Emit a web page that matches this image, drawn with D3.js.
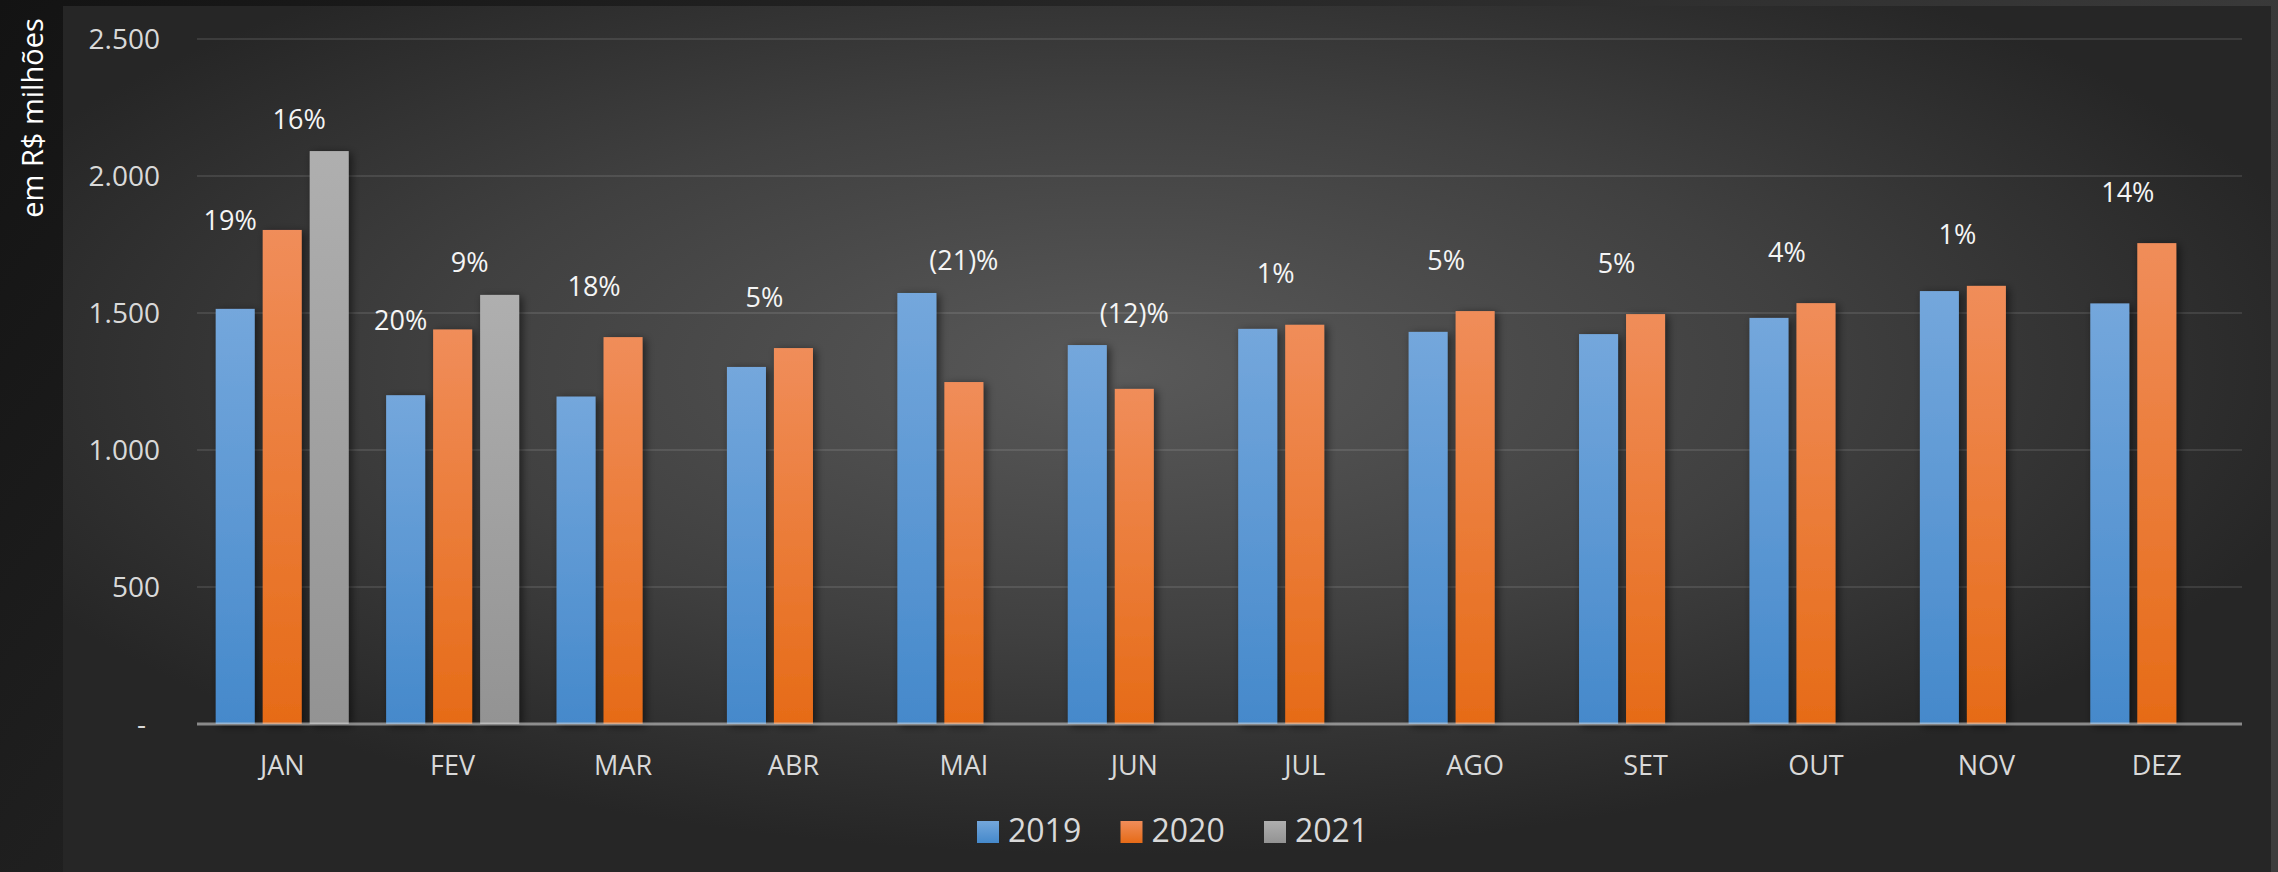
<!DOCTYPE html>
<html>
<head>
<meta charset="utf-8">
<script src="https://cdn.jsdelivr.net/npm/d3@7"></script>
<style>
  html, body { margin: 0; padding: 0; background: #1a1a1a; }
  svg { display: block; }
  text { font-family: "Open Sans", "Noto Sans", sans-serif; }
</style>
</head>
<body>
<svg id="chart" width="2278" height="872"></svg>
<script>
// ---- data ----
const months = ["JAN", "FEV", "MAR", "ABR", "MAI", "JUN", "JUL", "AGO", "SET", "OUT", "NOV", "DEZ"];
const years = ["2019", "2020", "2021"];
const values2019 = [1515, 1200, 1195, 1303, 1573, 1383, 1442, 1431, 1423, 1482, 1580, 1535];
const values2020 = [1803, 1440, 1412, 1372, 1248, 1223, 1457, 1507, 1496, 1536, 1599, 1755];
const values2021 = [2091, 1566, null, null, null, null, null, null, null, null, null, null];
const growth2020 = ["19%", "20%", "18%", "5%", "(21)%", "(12)%", "1%", "5%", "5%", "4%", "1%", "14%"];
const growth2021 = ["16%", "9%", null, null, null, null, null, null, null, null, null, null];
const yTickValues = [0, 500, 1000, 1500, 2000, 2500];
const yTickLabels = ["-", "500", "1.000", "1.500", "2.000", "2.500"];
const yTitle = "em R$ milhões";

// ---- layout ----
const W = 2278, H = 872;
const panel = { x: 63, y: 6, w: 2208, h: 866 };
const plot = { left: 197, right: 2242, top: 39, bottom: 724 };

const svg = d3.select("#chart");
const defs = svg.append("defs");

// page background
const bg = defs.append("linearGradient").attr("id", "pageBg")
  .attr("x1", 0).attr("y1", 0).attr("x2", 1).attr("y2", 0.3);
bg.append("stop").attr("offset", 0).attr("stop-color", "#131313");
bg.append("stop").attr("offset", 1).attr("stop-color", "#3d3d3d");

const pg = defs.append("radialGradient").attr("id", "panelBg")
  .attr("cx", 0.48).attr("cy", 0.42).attr("r", 0.56);
pg.append("stop").attr("offset", 0).attr("stop-color", "#595959");
pg.append("stop").attr("offset", 0.55).attr("stop-color", "#404040");
pg.append("stop").attr("offset", 1).attr("stop-color", "#262626");

const barColors = {
  "2019": ["#74a7dc", "#4589cb"],
  "2020": ["#f08d5a", "#e66b17"],
  "2021": ["#afafaf", "#939393"]
};
years.forEach(yr => {
  const g = defs.append("linearGradient").attr("id", "grad" + yr)
    .attr("x1", 0).attr("y1", 0).attr("x2", 0).attr("y2", 1);
  g.append("stop").attr("offset", 0).attr("stop-color", barColors[yr][0]);
  g.append("stop").attr("offset", 1).attr("stop-color", barColors[yr][1]);
});

const f = defs.append("filter").attr("id", "shadow")
  .attr("x", "-50%").attr("y", "-10%").attr("width", "200%").attr("height", "120%");
f.append("feDropShadow").attr("dx", 3).attr("dy", 2).attr("stdDeviation", 4)
  .attr("flood-color", "#000").attr("flood-opacity", 0.55);

svg.append("rect").attr("width", W).attr("height", H).attr("fill", "url(#pageBg)");
svg.append("rect").attr("x", panel.x).attr("y", panel.y)
  .attr("width", panel.w).attr("height", panel.h).attr("fill", "url(#panelBg)");

// ---- scales ----
const x0 = d3.scaleBand().domain(months).range([plot.left, plot.right]).paddingInner(0).paddingOuter(0);
const x1 = d3.scaleBand().domain(years).range([0, x0.bandwidth()])
  .paddingInner(8 / 47).paddingOuter(0.398);
const y = d3.scaleLinear().domain([0, 2500]).range([plot.bottom, plot.top]);

// ---- gridlines ----
svg.append("g")
  .selectAll("line").data(yTickValues.filter(v => v > 0)).join("line")
  .attr("x1", plot.left).attr("x2", plot.right)
  .attr("y1", d => y(d)).attr("y2", d => y(d))
  .attr("stroke", "rgba(255,255,255,0.10)").attr("stroke-width", 2);

// ---- y axis labels ----
const yAxis = d3.axisLeft(y).tickValues(yTickValues)
  .tickFormat((d, i) => yTickLabels[i]).tickSize(0).tickPadding(0);
const yg = svg.append("g").attr("transform", `translate(160,0)`).call(yAxis);
yg.select(".domain").remove();
yg.selectAll("text")
  .attr("fill", "#d9d9d9").attr("font-size", 28)
  .attr("font-family", "'Open Sans', sans-serif")
  .attr("dy", "0.35em")
  .attr("dx", d => d === 0 ? -14 : 0);

// y title
svg.append("text")
  .attr("transform", `translate(43, 118) rotate(-90)`)
  .attr("text-anchor", "middle")
  .attr("fill", "#ffffff").attr("font-size", 29)
  .text(yTitle);

// ---- bars ----
const seriesByYear = { "2019": values2019, "2020": values2020, "2021": values2021 };
const barData = [];
months.forEach((m, i) => {
  years.forEach(yr => {
    const v = seriesByYear[yr][i];
    if (v != null) barData.push({ month: m, year: yr, value: v });
  });
});

svg.append("g").selectAll("rect").data(barData).join("rect")
  .attr("x", d => x0(d.month) + x1(d.year))
  .attr("y", d => y(d.value))
  .attr("width", x1.bandwidth())
  .attr("height", d => y(0) - y(d.value))
  .attr("fill", d => `url(#grad${d.year})`)
  .attr("filter", "url(#shadow)");

// ---- x axis ----
svg.append("line")
  .attr("x1", plot.left).attr("x2", plot.right)
  .attr("y1", y(0)).attr("y2", y(0))
  .attr("stroke", "rgba(217,217,217,0.56)").attr("stroke-width", 3);

const xAxis = d3.axisBottom(x0).tickSize(0).tickPadding(0);
const xg = svg.append("g").attr("transform", `translate(0,${y(0)})`).call(xAxis);
xg.select(".domain").remove();
xg.selectAll("text")
  .attr("fill", "#d9d9d9").attr("font-size", 27)
  .attr("font-family", "'Open Sans', sans-serif")
  .attr("y", 51).attr("dy", 0);

// ---- growth labels ----
const center = (m, yr) => x0(m) + x1(yr) + x1.bandwidth() / 2;
const labels = [];
months.forEach((m, i) => {
  const has2021 = values2021[i] != null;
  if (has2021 && growth2021[i]) {
    labels.push({ text: growth2021[i], x: center(m, "2021") - 30, y: y(values2021[i]) - 33 });
  }
  if (growth2020[i]) {
    if (has2021) {
      labels.push({ text: growth2020[i], x: center(m, "2019") - 5, y: y(values2020[i]) - 10 });
    } else if (values2020[i] < values2019[i]) {
      labels.push({ text: growth2020[i], x: center(m, "2020"), y: y(values2019[i]) - 33 });
    } else {
      labels.push({ text: growth2020[i], x: center(m, "2020") - 29, y: y(values2020[i]) - 52 });
    }
  }
});
svg.append("g").selectAll("text").data(labels).join("text")
  .attr("x", d => d.x).attr("y", d => d.y)
  .attr("text-anchor", "middle").attr("dominant-baseline", "central")
  .attr("fill", "#f5f5f5").attr("font-size", 27)
  .text(d => d.text);

// ---- legend ----
const legendStep = 143.5;
const legendStart = 977;
const lg = svg.append("g").selectAll("g").data(years).join("g")
  .attr("transform", (d, i) => `translate(${legendStart + i * legendStep}, 821)`);
lg.append("rect").attr("width", 22).attr("height", 22)
  .attr("fill", d => `url(#grad${d})`);
lg.append("text").attr("x", 31).attr("y", 21)
  .attr("fill", "#d9d9d9").attr("font-size", 32)
  .text(d => d);
</script>
</body>
</html>
